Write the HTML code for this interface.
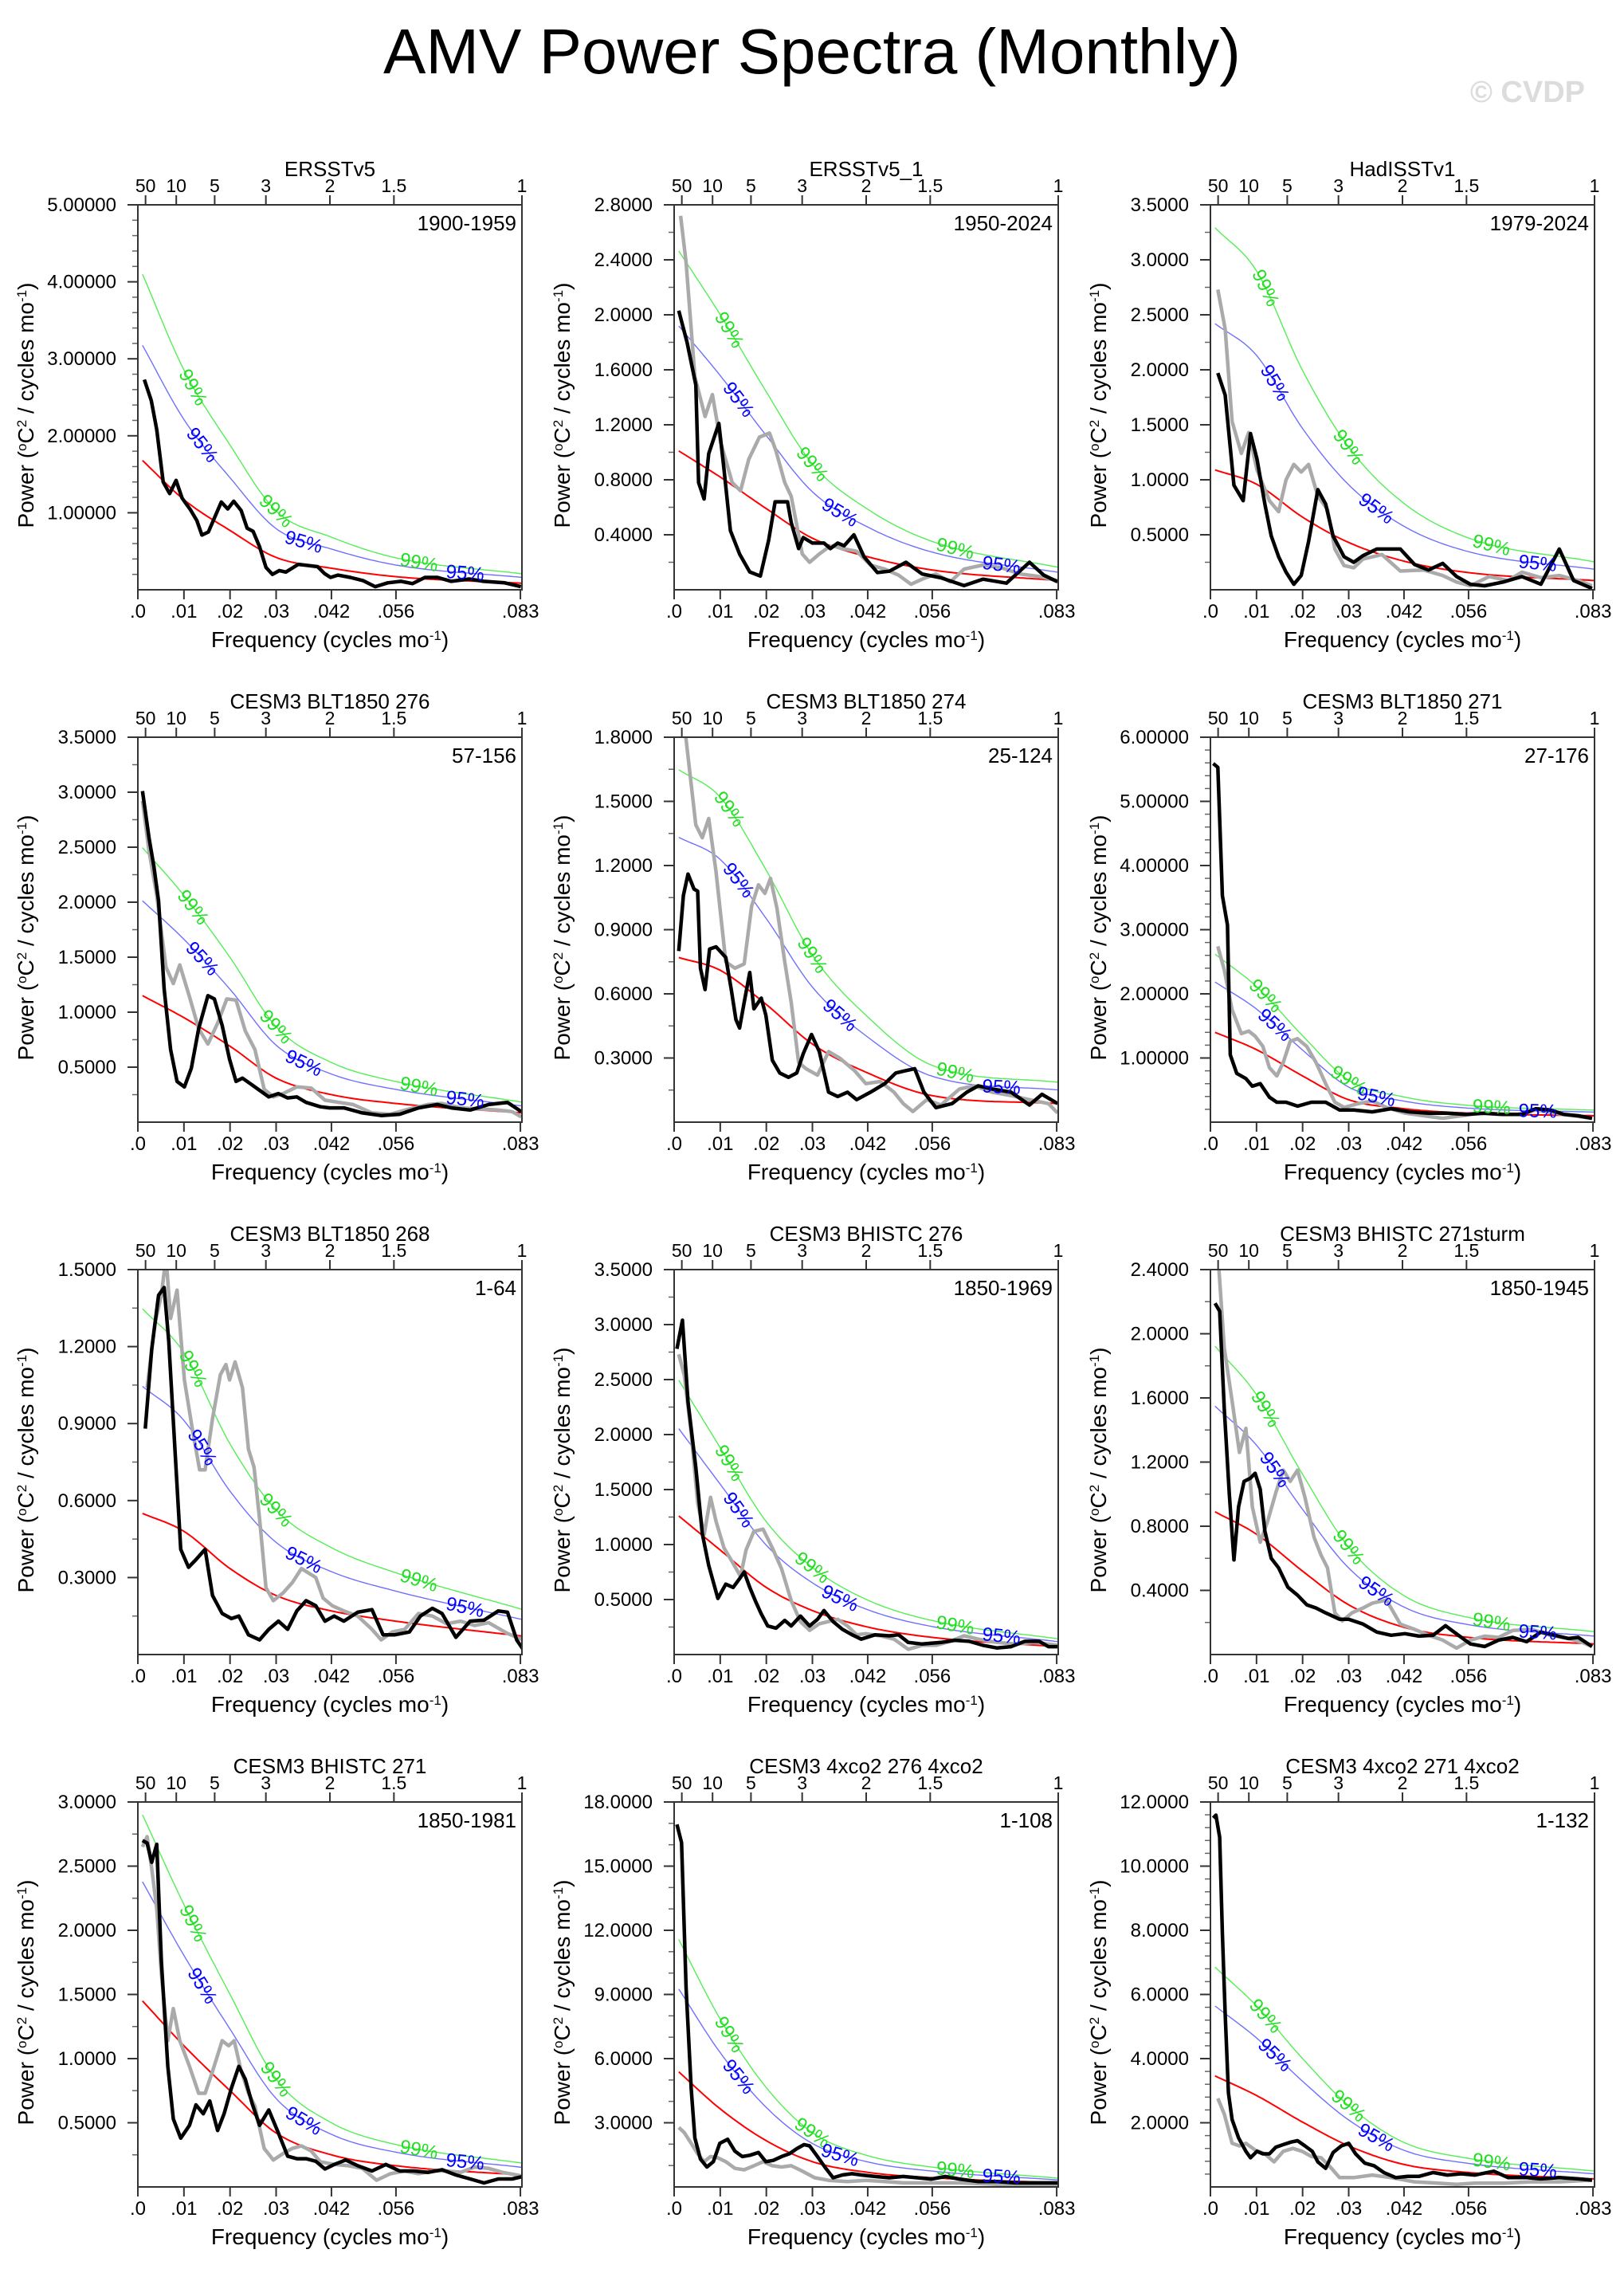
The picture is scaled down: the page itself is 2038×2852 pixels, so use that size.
<!DOCTYPE html>
<html><head><meta charset="utf-8"><title>AMV Power Spectra (Monthly)</title>
<style>
html,body{margin:0;padding:0;background:#fff;}
svg{display:block;font-family:"Liberation Sans",Arial,sans-serif;}
</style></head>
<body>
<svg id="chart" width="2038" height="2852" viewBox="0 0 2038 2852" xmlns="http://www.w3.org/2000/svg">
<text x="1019" y="92" font-size="80" text-anchor="middle" fill="#000">AMV Power Spectra (Monthly)</text>
<text x="1989" y="128" font-size="38" font-weight="bold" text-anchor="end" fill="#dcdcdc">© CVDP</text>
</svg>
<script>
// ---- panel metadata ----
const titles=["ERSSTv5","ERSSTv5_1","HadISSTv1","CESM3 BLT1850 276","CESM3 BLT1850 274","CESM3 BLT1850 271","CESM3 BLT1850 268","CESM3 BHISTC 276","CESM3 BHISTC 271sturm","CESM3 BHISTC 271","CESM3 4xco2 276 4xco2","CESM3 4xco2 271 4xco2"];
const years=["1900-1959","1950-2024","1979-2024","57-156","25-124","27-176","1-64","1850-1969","1850-1945","1850-1981","1-108","1-132"];
const yMax=[5,2.8,3.5,3.5,1.8,6,1.5,3.5,2.4,3.0,18,12];
const yStep=[1,0.4,0.5,0.5,0.3,1,0.3,0.5,0.4,0.5,3,2];
const yDec=[5,4,4,4,4,5,4,4,4,4,4,4];
const bottomTicks=[0,0.01,0.02,0.03,0.042,0.056,0.083];
const bottomLabels=[".0",".01",".02",".03",".042",".056",".083"];
const topPeriods=[50,10,5,3,2,1.5,1];
const topLabels=["50","10","5","3","2","1.5","1"];
// red-noise fit values sampled at these frequencies
const redF=[0.001,0.01,0.02,0.03,0.042,0.056,0.0833];
const redV=[
[1.68,1.17,0.77,0.42,0.28,0.17,0.085],
[1.01,0.82,0.59,0.375,0.24,0.144,0.067],
[1.09,0.96,0.66,0.43,0.26,0.156,0.084],
[1.15,0.95,0.69,0.40,0.25,0.17,0.084],
[0.77,0.71,0.55,0.365,0.23,0.124,0.087],
[1.40,1.13,0.72,0.35,0.21,0.14,0.10],
[0.55,0.48,0.335,0.23,0.17,0.13,0.072],
[1.26,0.95,0.61,0.40,0.25,0.156,0.072],
[0.89,0.75,0.52,0.31,0.17,0.107,0.066],
[1.45,1.10,0.75,0.42,0.25,0.165,0.093],
[5.38,3.65,2.16,1.18,0.68,0.43,0.19],
[3.46,2.85,2.02,1.28,0.70,0.45,0.25]];
const k95=[1.89,1.90,2.22,1.75,1.73,1.56,1.90,1.63,1.74,1.64,1.72,1.63];
const k99=[2.44,2.44,3.02,2.17,2.14,1.87,2.45,1.98,2.16,2.00,2.15,1.98];
// ---- spectra (frequency, power) ----
const blackF1=[.0014,.0029,.0041,.0055,.0069,.0083,.0096,.0114,.0128,.0139,.0153,.0181,.0195,.0208,.0224,.0237,.0250,.0264,.0278,.0292,.0307,.0321,.0348,.0390,.0405,.0418,.0434,.0461,.0488,.0515,.0542,.0571,.0596,.0623,.0650,.0680,.0719,.0750,.0796,.0831];
const blackV1=[2.73,2.46,2.08,1.40,1.25,1.42,1.19,1.04,0.90,0.71,0.75,1.14,1.05,1.15,1.03,0.80,0.76,0.56,0.29,0.20,0.25,0.23,0.33,0.30,0.21,0.16,0.19,0.16,0.12,0.04,0.09,0.11,0.08,0.16,0.16,0.11,0.14,0.11,0.09,0.04];
const grayF1=[];
const grayV1=[];
const blackF2=[.001,.0028,.0047,.0053,.0065,.0075,.0097,.0108,.0122,.0142,.0164,.0187,.0205,.0219,.0246,.0254,.0270,.0280,.0300,.0325,.0339,.0355,.0369,.0390,.0412,.0441,.0467,.0503,.0538,.0579,.0629,.0670,.0721,.0771,.0802,.0832];
const blackV2=[2.03,1.80,1.49,0.78,0.66,0.99,1.21,0.88,0.43,0.26,0.13,0.10,0.36,0.64,0.64,0.49,0.30,0.38,0.34,0.34,0.30,0.34,0.32,0.40,0.24,0.125,0.135,0.20,0.115,0.087,0.03,0.077,0.048,0.20,0.106,0.058];
const grayF2=[.0014,.0026,.0045,.0067,.0083,.0101,.0126,.0144,.0162,.0185,.0207,.0221,.0240,.0254,.0278,.0294,.0315,.0331,.0345,.0365,.0396,.0426,.0457,.0487,.0514,.0538,.0568,.0599,.0629,.0670,.0710,.0751,.0792,.0832];
const grayV2=[2.72,2.38,1.55,1.26,1.42,1.07,0.78,0.72,0.95,1.11,1.14,1.01,0.78,0.68,0.26,0.20,0.26,0.30,0.32,0.30,0.28,0.18,0.15,0.106,0.04,0.077,0.115,0.058,0.15,0.18,0.16,0.115,0.096,0.067];
const blackF3=[.0016,.0032,.0051,.0071,.0087,.0101,.0118,.0132,.0148,.0164,.0181,.0197,.0213,.0233,.0250,.0266,.0290,.0311,.0331,.0361,.0412,.0443,.0473,.0504,.0534,.0564,.0595,.0635,.0676,.0717,.0757,.0788,.0828];
const blackV3=[1.97,1.77,0.95,0.81,1.42,1.19,0.78,0.49,0.30,0.16,0.05,0.13,0.44,0.91,0.78,0.49,0.30,0.25,0.31,0.37,0.37,0.23,0.18,0.24,0.12,0.05,0.036,0.07,0.12,0.05,0.37,0.084,0.012];
const grayF3=[.0016,.0032,.0047,.0067,.0083,.0101,.0128,.0148,.0164,.0181,.0197,.0213,.0233,.0254,.0270,.0290,.0311,.0331,.0372,.0412,.0463,.0504,.0534,.0564,.0605,.0646,.0676,.0717,.0757,.0798,.0828];
const grayV3=[2.73,2.37,1.53,1.24,1.43,1.09,0.81,0.71,1.00,1.14,1.07,1.14,0.85,0.73,0.37,0.22,0.20,0.28,0.32,0.17,0.18,0.13,0.07,0.036,0.12,0.084,0.16,0.11,0.13,0.084,0.036];
const blackF4=[.001,.0024,.0035,.0045,.0057,.0071,.0085,.0101,.0116,.0132,.0152,.0166,.0183,.0199,.0213,.0227,.0244,.0264,.0284,.0305,.0325,.0345,.0365,.0396,.0416,.0447,.0487,.0528,.0568,.0609,.0650,.0680,.0721,.0761,.0802,.0832];
const blackV4=[3.01,2.59,2.32,2.01,1.21,0.66,0.37,0.32,0.49,0.85,1.15,1.12,0.88,0.57,0.37,0.40,0.35,0.29,0.23,0.26,0.22,0.23,0.18,0.14,0.13,0.13,0.084,0.06,0.072,0.13,0.16,0.13,0.11,0.16,0.18,0.096];
const grayF4=[.001,.0024,.0041,.0061,.0077,.0091,.0112,.0132,.0152,.0173,.0193,.0213,.0233,.0254,.0274,.0294,.0315,.0345,.0376,.0406,.0436,.0467,.0508,.0548,.0589,.0629,.0660,.0700,.0741,.0782,.0812,.0832];
const grayV4=[2.92,2.47,2.06,1.41,1.26,1.43,1.14,0.85,0.71,0.90,1.12,1.11,0.83,0.66,0.30,0.23,0.26,0.32,0.31,0.20,0.18,0.16,0.084,0.072,0.12,0.16,0.17,0.13,0.12,0.11,0.096,0.048];
const blackF5=[.001,.002,.003,.0043,.0051,.0057,.0067,.0077,.0091,.0112,.0124,.0134,.0142,.0152,.0164,.0173,.0189,.0199,.0213,.0229,.0248,.0266,.0280,.0298,.0315,.0335,.0355,.0376,.0396,.0426,.0457,.0481,.0501,.0522,.0542,.0568,.0603,.0635,.0660,.0690,.0731,.0771,.0798,.0832];
const blackV5=[0.80,1.06,1.16,1.09,1.08,0.72,0.62,0.81,0.82,0.77,0.62,0.48,0.44,0.56,0.70,0.53,0.58,0.50,0.29,0.23,0.21,0.23,0.32,0.41,0.33,0.14,0.12,0.14,0.105,0.14,0.18,0.23,0.24,0.25,0.14,0.068,0.087,0.14,0.17,0.155,0.14,0.08,0.13,0.087];
const grayF5=[.002,.0047,.0061,.0075,.0091,.0112,.0132,.0152,.0168,.0183,.0197,.0209,.0223,.0240,.0254,.0270,.0286,.0311,.0335,.0359,.0392,.0416,.0447,.0477,.0497,.0518,.0548,.0579,.0619,.0650,.0690,.0731,.0771,.0812,.0832];
const grayV5=[1.90,1.39,1.33,1.42,1.17,0.75,0.72,0.74,1.01,1.11,1.07,1.14,1.00,0.75,0.56,0.28,0.25,0.22,0.33,0.30,0.24,0.18,0.19,0.14,0.087,0.05,0.105,0.08,0.155,0.17,0.14,0.124,0.105,0.087,0.043];
const blackF6=[.0006,.0016,.0026,.0037,.0043,.0057,.0077,.0091,.0108,.0128,.0144,.0164,.0189,.0219,.0250,.0280,.0311,.0351,.0392,.0432,.0473,.0514,.0554,.0595,.0635,.0676,.0706,.0737,.0767,.0798,.0828];
const blackV6=[5.59,5.53,3.53,3.07,1.05,0.76,0.68,0.56,0.60,0.39,0.31,0.31,0.25,0.31,0.31,0.19,0.19,0.16,0.21,0.16,0.14,0.14,0.12,0.14,0.12,0.12,0.21,0.19,0.12,0.10,0.06];
const grayF6=[.0016,.003,.0047,.0067,.0083,.0097,.0114,.0128,.0144,.0158,.0173,.0189,.0209,.0229,.0250,.0270,.0290,.0321,.0351,.0382,.0422,.0463,.0504,.0544,.0585,.0625,.0666,.0706,.0747,.0788,.0828];
const grayV6=[2.74,2.37,1.75,1.38,1.42,1.34,1.18,0.85,0.72,0.93,1.26,1.30,1.18,0.93,0.60,0.31,0.23,0.29,0.33,0.23,0.14,0.10,0.06,0.10,0.14,0.12,0.12,0.19,0.14,0.10,0.06];
const blackF7=[.0016,.003,.0045,.0057,.0067,.0081,.0093,.011,.0126,.0146,.0162,.0183,.0203,.0219,.0240,.0264,.0284,.0305,.0325,.0345,.0365,.0386,.0406,.0426,.0447,.0477,.0508,.0532,.0558,.0589,.0613,.0639,.066,.069,.0721,.0751,.0782,.0802,.0822,.0836];
const blackV7=[0.88,1.19,1.40,1.43,1.22,0.78,0.41,0.34,0.37,0.41,0.23,0.16,0.14,0.15,0.077,0.057,0.098,0.13,0.098,0.17,0.21,0.19,0.13,0.15,0.13,0.165,0.175,0.077,0.077,0.088,0.15,0.18,0.16,0.067,0.13,0.134,0.17,0.165,0.057,0.02];
const grayF7=[.002,.0037,.0051,.0061,.0071,.0085,.0101,.0118,.0134,.0146,.0162,.0179,.0191,.0199,.0211,.0227,.0240,.0252,.0264,.0278,.0294,.0315,.0335,.0355,.0386,.0402,.0422,.0447,.0477,.0508,.0528,.0552,.0579,.0609,.0639,.067,.07,.0731,.0761,.0802,.0836];
const grayV7=[1.04,1.29,1.40,1.55,1.31,1.42,1.07,0.88,0.72,0.72,0.92,1.09,1.13,1.07,1.14,1.04,0.80,0.73,0.53,0.26,0.21,0.24,0.28,0.335,0.30,0.22,0.19,0.17,0.15,0.098,0.057,0.088,0.098,0.16,0.15,0.12,0.13,0.113,0.124,0.082,0.057];
const blackF8=[.0006,.0018,.003,.0047,.0061,.0075,.0095,.0112,.0128,.0142,.0152,.0164,.0176,.0189,.0203,.0221,.0240,.0254,.0274,.0294,.0311,.0325,.0345,.0365,.0386,.0406,.0436,.0467,.0487,.0508,.0538,.0579,.0609,.064,.067,.07,.0731,.0761,.0792,.0812,.0832];
const blackV8=[2.78,3.04,2.30,1.70,1.10,0.81,0.51,0.64,0.61,0.69,0.75,0.61,0.49,0.37,0.26,0.24,0.31,0.26,0.35,0.26,0.32,0.40,0.30,0.23,0.18,0.14,0.18,0.17,0.18,0.11,0.096,0.11,0.13,0.12,0.084,0.06,0.072,0.12,0.12,0.072,0.072];
const grayF8=[.001,.0022,.0037,.0051,.0065,.0079,.0091,.0108,.0128,.0144,.0156,.0173,.0193,.0213,.0233,.0254,.0274,.0294,.0315,.0335,.0355,.0376,.0396,.0416,.0447,.0477,.0508,.0538,.0568,.0599,.0629,.066,.07,.0741,.0782,.0832];
const grayV8=[2.73,2.54,2.01,1.38,1.09,1.43,1.21,0.97,0.83,0.71,0.95,1.12,1.14,0.97,0.78,0.49,0.30,0.22,0.28,0.30,0.32,0.26,0.18,0.19,0.17,0.14,0.048,0.084,0.084,0.12,0.17,0.14,0.11,0.096,0.11,0.084];
const blackF9=[.001,.002,.003,.0041,.0051,.0061,.0073,.0087,.0097,.0108,.0118,.0132,.0148,.0168,.0189,.0209,.0229,.025,.028,.03,.0331,.0361,.0392,.0422,.0453,.0483,.051,.0538,.0564,.0595,.0625,.0656,.0686,.0717,.0747,.0777,.0798,.0828];
const blackV9=[2.19,2.14,1.53,1.00,0.59,0.92,1.08,1.10,1.13,1.03,0.77,0.60,0.54,0.42,0.37,0.31,0.29,0.26,0.22,0.22,0.19,0.14,0.12,0.13,0.115,0.12,0.18,0.12,0.066,0.05,0.09,0.107,0.08,0.14,0.12,0.10,0.107,0.05];
const grayF9=[.0016,.003,.0047,.0063,.0077,.0091,.0108,.0124,.0142,.0158,.0173,.0189,.0205,.0225,.0240,.0254,.027,.0286,.0307,.0331,.0351,.0382,.0412,.0443,.0473,.0504,.0534,.0564,.0595,.0625,.0656,.0697,.0737,.0777,.0808,.0828];
const grayV9=[2.50,1.91,1.58,1.26,1.41,0.92,0.70,0.83,1.01,1.15,1.08,1.15,0.98,0.73,0.62,0.54,0.26,0.21,0.26,0.29,0.32,0.34,0.19,0.157,0.12,0.09,0.04,0.09,0.115,0.107,0.15,0.157,0.12,0.10,0.074,0.05];
const blackF10=[.001,.002,.003,.0041,.0051,.0065,.0077,.0093,.0112,.0126,.0142,.0156,.0173,.0187,.0203,.0219,.0233,.0248,.0264,.0284,.0305,.0325,.0345,.0365,.0386,.0406,.0426,.0451,.0477,.0508,.0538,.0568,.0599,.0629,.066,.069,.0721,.0751,.0782,.0812,.0836];
const blackV10=[2.70,2.68,2.53,2.67,1.76,0.94,0.53,0.38,0.48,0.64,0.57,0.67,0.44,0.57,0.77,0.94,0.84,0.65,0.48,0.60,0.42,0.24,0.22,0.22,0.20,0.14,0.175,0.21,0.165,0.124,0.175,0.124,0.124,0.113,0.134,0.093,0.062,0.031,0.062,0.062,0.082];
const grayF10=[.001,.002,.003,.0041,.0051,.0065,.0077,.0091,.0112,.0132,.0146,.0162,.0183,.0197,.0209,.0223,.024,.0254,.0274,.0294,.0315,.0335,.0355,.0376,.0396,.0426,.0457,.0487,.0518,.0548,.0579,.0609,.0639,.067,.07,.0731,.0761,.0792,.0822,.0836];
const grayV10=[2.65,2.73,2.48,2.17,1.66,1.14,1.39,1.14,0.94,0.73,0.73,0.90,1.14,1.10,1.14,0.92,0.73,0.63,0.30,0.21,0.26,0.30,0.32,0.28,0.196,0.175,0.165,0.144,0.052,0.103,0.124,0.103,0.124,0.124,0.113,0.155,0.144,0.113,0.093,0.082];
const blackF11=[.0006,.0016,.0026,.0037,.0045,.0057,.0071,.0085,.0099,.0116,.0132,.0148,.0164,.0183,.0199,.0215,.0233,.025,.0266,.0282,.0294,.0311,.0327,.0345,.0365,.0386,.0406,.0436,.0467,.0497,.0528,.0558,.0589,.0619,.066,.07,.0741,.0782,.0832];
const blackV11=[16.95,16.1,9.3,4.6,2.29,1.30,0.93,1.18,2.04,2.23,1.67,1.42,1.48,1.61,1.18,1.24,1.42,1.55,1.79,1.98,1.92,1.42,0.93,0.43,0.56,0.62,0.56,0.49,0.43,0.49,0.43,0.37,0.49,0.37,0.25,0.25,0.19,0.19,0.19];
const grayF11=[.001,.0022,.0037,.0051,.0065,.0079,.0095,.0112,.0132,.0152,.0173,.0193,.0213,.0233,.0254,.0278,.0305,.0335,.0376,.0416,.0457,.0497,.0558,.0619,.07,.0782,.0832];
const grayV11=[2.78,2.54,2.04,1.55,1.18,1.42,1.36,1.18,0.87,0.80,0.99,1.18,0.99,0.93,0.99,0.74,0.43,0.31,0.25,0.31,0.25,0.19,0.19,0.19,0.12,0.12,0.12];
const blackF12=[.0006,.0012,.002,.0026,.0032,.0039,.0047,.0061,.0077,.0087,.0101,.0114,.0128,.0142,.0158,.0175,.0189,.0205,.0221,.0233,.025,.0266,.0284,.03,.0315,.0335,.0355,.0376,.0402,.0428,.0453,.0483,.0514,.0544,.0574,.0615,.0646,.0686,.0717,.0757,.0798,.0828];
const blackV12=[11.5,11.59,10.9,7.9,5.4,2.93,2.10,1.53,1.11,0.91,1.11,1.03,1.03,1.24,1.32,1.40,1.44,1.28,1.11,0.78,0.58,1.07,1.28,1.36,1.03,0.74,0.66,0.45,0.29,0.33,0.33,0.45,0.37,0.41,0.37,0.49,0.29,0.29,0.25,0.29,0.25,0.21];
const grayF12=[.0016,.003,.0047,.0063,.0077,.0097,.0118,.0138,.0158,.0179,.0199,.0219,.024,.026,.028,.0311,.0351,.0392,.0443,.0493,.0534,.0574,.0635,.0697,.0757,.0828];
const grayV12=[2.76,2.27,1.36,1.28,1.36,1.15,1.03,0.78,1.11,1.20,1.11,0.95,0.91,0.62,0.29,0.29,0.37,0.29,0.16,0.12,0.08,0.12,0.12,0.16,0.16,0.21];

const blackF=[blackF1,blackF2,blackF3,blackF4,blackF5,blackF6,blackF7,blackF8,blackF9,blackF10,blackF11,blackF12];
const blackV=[blackV1,blackV2,blackV3,blackV4,blackV5,blackV6,blackV7,blackV8,blackV9,blackV10,blackV11,blackV12];
const grayF=[grayF1,grayF2,grayF3,grayF4,grayF5,grayF6,grayF7,grayF8,grayF9,grayF10,grayF11,grayF12];
const grayV=[grayV1,grayV2,grayV3,grayV4,grayV5,grayV6,grayV7,grayV8,grayV9,grayV10,grayV11,grayV12];
const lab99F=[0.012,0.030,0.061];
const lab95F=[0.014,0.036,0.071];

const NS="http://www.w3.org/2000/svg";
const svg=document.getElementById("chart");
const FMAX=1/12;
function mk(tag,attrs,parent){const e=document.createElementNS(NS,tag);for(const k in attrs)e.setAttribute(k,attrs[k]);parent.appendChild(e);return e;}

// monotone cubic interpolation
function monotone(xs,ys){
  const n=xs.length,d=[],m=new Array(n);
  for(let i=0;i<n-1;i++)d.push((ys[i+1]-ys[i])/(xs[i+1]-xs[i]));
  m[0]=d[0];m[n-1]=d[n-2];
  for(let i=1;i<n-1;i++){m[i]=(d[i-1]*d[i]<=0)?0:(d[i-1]+d[i])/2;}
  for(let i=0;i<n-1;i++){if(d[i]===0){m[i]=m[i+1]=0;continue;}const a=m[i]/d[i],b=m[i+1]/d[i],s=a*a+b*b;if(s>9){const t=3/Math.sqrt(s);m[i]=t*a*d[i];m[i+1]=t*b*d[i];}}
  return function(x){let i=0;while(i<n-2&&x>xs[i+1])i++;const h=xs[i+1]-xs[i],t=(x-xs[i])/h,t2=t*t,t3=t2*t;
    return (2*t3-3*t2+1)*ys[i]+(t3-2*t2+t)*h*m[i]+(-2*t3+3*t2)*ys[i+1]+(t3-t2)*h*m[i+1];};
}

for(let p=0;p<12;p++){
  const c=p%3,r=Math.floor(p/3);
  const L=173+673*c,T=257+668*r,W=482,H=483;
  const xs=f=>L+f/FMAX*W;
  const ys=v=>T+H-v/yMax[p]*H;
  const g=mk("g",{},svg);
  
  
  const clip=mk("clipPath",{id:"clip"+p},g);
  mk("rect",{x:L,y:T,width:W,height:H},clip);

  // title
  const tt=mk("text",{x:L+W/2,y:T-36,"font-size":26,"text-anchor":"middle",fill:"#000"},g);
  tt.textContent=titles[p];
  
  
  // year range
  const yr=mk("text",{x:L+W-7,y:T+32,"font-size":26,"text-anchor":"end",fill:"#000"},g);
  yr.textContent=years[p];
  
  

  // y ticks
  const nMaj=Math.round(yMax[p]/yStep[p]);
  const nMin=(yStep[p]===1||yStep[p]===2)?4:(yStep[p]===3?2:1);
  for(let i=0;i<=nMaj;i++){
    const v=i*yStep[p],y=ys(v);
    if(i>0){
      const tl=mk("line",{x1:L-13,y1:y,x2:L,y2:y,stroke:"#333","stroke-width":2},g);
      
      
      const lb=mk("text",{x:L-27,y:y+8,"font-size":24,"text-anchor":"end",fill:"#000"},g);
      lb.textContent=v.toFixed(yDec[p]);
      
      
    }
    if(i<nMaj){for(let j=1;j<=nMin;j++){const yy=ys(v+j*yStep[p]/(nMin+1));
      const mt=mk("line",{x1:L-7,y1:yy,x2:L,y2:yy,stroke:"#666","stroke-width":1.5},g);
      
      }}
  }
  // bottom ticks
  bottomTicks.forEach((f,i)=>{
    const x=xs(Math.min(f,FMAX));
    const tl=mk("line",{x1:x,y1:T+H,x2:x,y2:T+H+12,stroke:"#333","stroke-width":2},g);
    
    
    const lb=mk("text",{x:x,y:T+H+35,"font-size":24,"text-anchor":"middle",fill:"#000"},g);
    lb.textContent=bottomLabels[i];
    
    
  });
  // top ticks (period in years)
  topPeriods.forEach((P,i)=>{
    const x=xs(1/(12*P));
    const tl=mk("line",{x1:x,y1:T-12,x2:x,y2:T,stroke:"#333","stroke-width":2},g);
    
    
    const lb=mk("text",{x:x,y:T-16,"font-size":23,"text-anchor":"middle",fill:"#000"},g);
    lb.textContent=topLabels[i];
    
    
  });
  // axis titles
  const yt=mk("text",{x:0,y:0,"font-size":28,"text-anchor":"middle",fill:"#000",transform:`translate(${L-131},${T+H/2+10}) rotate(-90)`},g);
  yt.innerHTML='Power (<tspan baseline-shift="super" font-size="17">o</tspan>C<tspan baseline-shift="super" font-size="17">2</tspan> / cycles mo<tspan baseline-shift="super" font-size="17">-1</tspan>)';
  
  
  const xt=mk("text",{x:L+W/2,y:T+H+72,"font-size":28,"text-anchor":"middle",fill:"#000"},g);
  xt.innerHTML='Frequency (cycles mo<tspan baseline-shift="super" font-size="17">-1</tspan>)';
  
  

  // curves
  const cg=mk("g",{"clip-path":`url(#clip${p})`},g);
  const red=monotone(redF,redV[p]);
  const curve=(k)=>{let d="";for(let i=0;i<=120;i++){const f=redF[0]+(FMAX-redF[0])*i/120;d+=(i?"L":"M")+xs(f).toFixed(1)+","+ys(red(f)*k).toFixed(1);}return d;};
  const gp=mk("path",{d:curve(k99[p]),fill:"none",stroke:"#55ee55","stroke-width":1.4},cg);
  
  
  const bp=mk("path",{d:curve(k95[p]),fill:"none",stroke:"#6f6fff","stroke-width":1.4},cg);
  
  
  const rp=mk("path",{d:curve(1),fill:"none",stroke:"#ff0000","stroke-width":2},cg);
  
  

  const lineD=(F,V)=>F.map((f,i)=>(i?"L":"M")+xs(f).toFixed(1)+","+ys(V[i]).toFixed(1)).join("");
  if(grayF[p].length){
    const gl=mk("path",{d:lineD(grayF[p],grayV[p]),fill:"none",stroke:"#aaaaaa","stroke-width":4.5,"stroke-linejoin":"round"},cg);
    
    
  }
  const bl=mk("path",{d:lineD(blackF[p],blackV[p]),fill:"none",stroke:"#000","stroke-width":4.5,"stroke-linejoin":"round"},cg);
  
  

  // curve labels
  const label=(f,k,txt,col,name)=>{
    const x1=xs(f-0.001),y1=ys(red(f-0.001)*k),x2=xs(f+0.001),y2=ys(red(f+0.001)*k);
    const ang=Math.atan2(y2-y1,x2-x1)*180/Math.PI;
    const x=xs(f),y=ys(red(f)*k);
    const t=mk("text",{x:0,y:8,"font-size":24,"text-anchor":"middle",fill:col,transform:`translate(${x.toFixed(1)},${y.toFixed(1)}) rotate(${ang.toFixed(1)})`},g);
    t.textContent=txt;
    
    
  };
  lab99F.forEach(f=>label(f,k99[p],"99%","#22dd22","label-99-percent"));
  lab95F.forEach(f=>label(f,k95[p],"95%","#0000ff","label-95-percent"));

  // frame
  const fr=mk("rect",{x:L,y:T,width:W,height:H,fill:"none",stroke:"#333","stroke-width":2},g);
  
  
}
</script>
</body></html>
